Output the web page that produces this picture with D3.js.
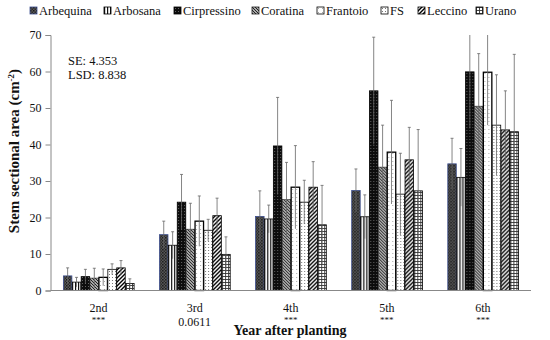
<!DOCTYPE html>
<html lang="en">
<head>
<meta charset="UTF-8">
<title>Stem sectional area</title>
<style>
  body { margin: 0; padding: 0; background: #fff; }
  svg text { font-family: "Liberation Serif", "DejaVu Serif", serif; fill: #111; }
</style>
<script src="https://d3js.org/d3.v7.min.js"></script>
</head>
<body>
<div id="chart"></div>
<script>
// cultivars and years
const cultivars = ["Arbequina", "Arbosana", "Cirpressino", "Coratina", "Frantoio", "FS", "Leccino", "Urano"];
const years = ["2nd", "3rd", "4th", "5th", "6th"];
const yearSig = ["***", "0.0611", "***", "***", "***"];

// mean stem sectional area per year (rows) per cultivar (cols)
const means = [
  [4.0, 2.3, 3.8, 3.4, 3.6, 5.8, 6.2, 1.9],
  [15.3, 12.4, 24.2, 16.8, 19.0, 16.5, 20.5, 9.9],
  [20.3, 19.6, 39.6, 24.9, 28.3, 24.2, 28.3, 18.0],
  [27.4, 20.2, 54.7, 33.8, 37.9, 26.4, 35.8, 27.3],
  [34.7, 31.0, 59.9, 50.5, 59.8, 45.3, 44.0, 43.5]
];
// error (half-length of the error bar)
const errs = [
  [2.2, 1.3, 2.0, 2.7, 2.3, 1.5, 2.0, 1.3],
  [3.7, 3.7, 7.6, 7.1, 6.9, 3.0, 4.8, 4.8],
  [7.0, 3.8, 13.3, 10.2, 11.4, 6.0, 7.0, 10.8],
  [5.9, 6.0, 14.7, 11.5, 14.2, 11.2, 8.9, 16.8],
  [7.0, 7.9, 15.5, 14.4, 14.5, 13.8, 10.7, 21.2]
];
const yTicks = [0, 10, 20, 30, 40, 50, 60, 70];

const W = 550, H = 340;
const m = { left: 50.5, right: 19, top: 35, bottom: 49.5 };

const svg = d3.select("#chart").append("svg")
  .attr("width", W).attr("height", H);

const defs = svg.append("defs");
function pat(id, size, bg, draw) {
  const p = defs.append("pattern").attr("id", id)
    .attr("patternUnits", "userSpaceOnUse")
    .attr("width", size).attr("height", size);
  p.append("rect").attr("width", size).attr("height", size).attr("fill", bg);
  draw(p);
}
pat("p0", 3, "#5a5a5a", p => {
  p.append("rect").attr("x", 0).attr("y", 0).attr("width", 1.5).attr("height", 1.5).attr("fill", "#1a1a1a");
  p.append("rect").attr("x", 1.5).attr("y", 1.5).attr("width", 1.5).attr("height", 1.5).attr("fill", "#2a2a2a");
});
pat("p1", 3, "#fff", p => {
  p.append("rect").attr("x", 0).attr("y", 0).attr("width", 1.2).attr("height", 3).attr("fill", "#111");
});
pat("p2", 3, "#0d0d0d", p => {
  p.append("rect").attr("x", 1).attr("y", 1).attr("width", 0.9).attr("height", 0.9).attr("fill", "#777");
});
pat("p3", 3, "#aaa", p => {
  p.append("path").attr("d", "M0,0 L3,3 M-1,2 L1,4 M2,-1 L4,1").attr("stroke", "#222").attr("stroke-width", 1);
});
pat("p4", 4, "#fff", p => {
  p.append("rect").attr("x", 1).attr("y", 1).attr("width", 0.8).attr("height", 0.8).attr("fill", "#777");
});
pat("p5", 3, "#fff", p => {
  p.append("rect").attr("x", 1).attr("y", 1).attr("width", 0.9).attr("height", 0.9).attr("fill", "#555");
});
pat("p6", 4, "#fff", p => {
  p.append("path").attr("d", "M0,4 L4,0 M-1,1 L1,-1 M3,5 L5,3").attr("stroke", "#000").attr("stroke-width", 1.4);
});
pat("p7", 3, "#fff", p => {
  p.append("path").attr("d", "M0,0.5 H3 M0.5,0 V3").attr("stroke", "#333").attr("stroke-width", 0.9);
});
const strokes = ["#3d4f8f", "#000", "#000", "#222", "#000", "#000", "#000", "#000"];
const strokeW = [0.8, 0.8, 0.8, 0.6, 1.3, 0.8, 0.8, 0.8];

const x0 = d3.scaleBand().domain(years).range([m.left, W - m.right])
  .paddingInner(0.26).paddingOuter(0.13);
const x1 = d3.scaleBand().domain(cultivars).range([0, x0.bandwidth()]);
const y = d3.scaleLinear().domain([0, 70]).range([H - m.bottom, m.top]);
const yc = v => Math.max(y(v), m.top);

const rows = years.map((yr, i) => cultivars.map((c, j) => ({ yr, c, j, v: means[i][j], e: errs[i][j] })));

const g = svg.append("g").selectAll("g").data(rows).join("g")
  .attr("transform", d => `translate(${x0(d[0].yr)},0)`);

g.selectAll("rect").data(d => d).join("rect")
  .attr("x", d => x1(d.c) + 0.4)
  .attr("y", d => y(d.v))
  .attr("width", x1.bandwidth() - 0.4)
  .attr("height", d => y(0) - y(d.v))
  .attr("fill", d => `url(#p${d.j})`)
  .attr("stroke", d => strokes[d.j])
  .attr("stroke-width", d => strokeW[d.j]);

g.selectAll("line.v").data(d => d).join("line").attr("class", "v")
  .attr("x1", d => x1(d.c) + x1.bandwidth() / 2 + 0.2)
  .attr("x2", d => x1(d.c) + x1.bandwidth() / 2 + 0.2)
  .attr("y1", d => y(d.v - d.e)).attr("y2", d => yc(d.v + d.e))
  .attr("stroke", "#666").attr("stroke-width", 0.8);
g.selectAll("line.c").data(d => d.filter(e => e.v + e.e <= 70)).join("line").attr("class", "c")
  .attr("x1", d => x1(d.c) + x1.bandwidth() / 2 - 1.3)
  .attr("x2", d => x1(d.c) + x1.bandwidth() / 2 + 1.7)
  .attr("y1", d => y(d.v + d.e)).attr("y2", d => y(d.v + d.e))
  .attr("stroke", "#666").attr("stroke-width", 0.8);

// axes
const ya = svg.append("g").attr("transform", `translate(${m.left},0)`)
  .call(d3.axisLeft(y).tickValues(yTicks).tickSize(5).tickPadding(4));
ya.selectAll("path, line").attr("stroke", "#888");
ya.selectAll("text").style("font-size", "12px").style("font-family", "Liberation Serif, serif").attr("fill", "#222");

svg.append("line").attr("x1", m.left).attr("x2", W - m.right)
  .attr("y1", y(0)).attr("y2", y(0)).attr("stroke", "#888");

svg.append("g").selectAll("text").data(years).join("text")
  .attr("x", d => x0(d) + x0.bandwidth() / 2).attr("y", 311.5)
  .attr("text-anchor", "middle").style("font-size", "12px").text(d => d);
svg.append("g").selectAll("text").data(yearSig).join("text")
  .attr("x", (d, i) => x0(years[i]) + x0.bandwidth() / 2).attr("y", (d, i) => d === "***" ? 322.5 : 325.5)
  .attr("text-anchor", "middle").style("font-size", d => d === "***" ? "9px" : "12px").text(d => d);

svg.append("text").attr("x", 290).attr("y", 335)
  .attr("text-anchor", "middle").style("font-size", "14px").style("font-weight", "bold")
  .text("Year after planting");

const yt = svg.append("text").attr("transform", `translate(19,151) rotate(-90)`)
  .attr("text-anchor", "middle").style("font-size", "15px").style("font-weight", "bold");
yt.append("tspan").text("Stem sectional area (cm");
yt.append("tspan").attr("dy", -5).style("font-size", "9px").text("-2");
yt.append("tspan").attr("dy", 5).text(")");

svg.append("text").attr("x", 68).attr("y", 65).style("font-size", "12.5px").text("SE: 4.353");
svg.append("text").attr("x", 68).attr("y", 79).style("font-size", "12.5px").text("LSD: 8.838");

// legend
const legX = [30, 104, 174, 252, 317, 381, 418, 476];
const leg = svg.append("g").selectAll("g").data(cultivars).join("g")
  .attr("transform", (d, i) => `translate(${legX[i]},7)`);
leg.append("rect").attr("width", 7).attr("height", 7)
  .attr("fill", (d, i) => `url(#p${i})`).attr("stroke", (d, i) => strokes[i]).attr("stroke-width", 0.8);
leg.append("text").attr("x", 9).attr("y", 7.5).style("font-size", "12.5px").text(d => d);
</script>
</body>
</html>
